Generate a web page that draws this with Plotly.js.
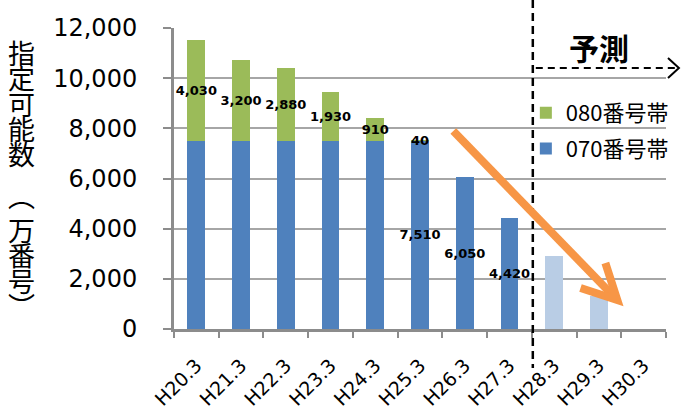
<!DOCTYPE html>
<html>
<head>
<meta charset="utf-8">
<script src="https://cdn.plot.ly/plotly-3.0.1.min.js"></script>
<style>
  html, body { margin: 0; padding: 0; background: #fff; }
  #chart { width: 686px; height: 414px; }
</style>
</head>
<body>
<div id="chart"></div>
<script>
// Fiscal-year points (Heisei year, March)
const categories = ['H20.3','H21.3','H22.3','H23.3','H24.3','H25.3','H26.3','H27.3','H28.3','H29.3','H30.3'];
// Assignable numbers, in units of 10,000 numbers
const band070 = [7510, 7510, 7510, 7510, 7510, 7510, 6050, 4420, null, null, null];
const band080 = [4030, 3200, 2880, 1930, 910, 40, null, null, null, null, null];
const forecast070 = [null, null, null, null, null, null, null, null, 2900, 1300, 0];
// Which 070 bars carry a value label
const labelled070 = [false, false, false, false, false, true, true, true, false, false, false];

const seriesNames = ['070番号帯', '080番号帯'];
// vertical axis title, written top to bottom
const yTitleMain = '指定可能数';
const yTitleOpen = '︵';
const yTitleUnit = '万番号︶';
const forecastLabel = '予測';

const FONT = 'DejaVu Sans';
const CJK = 'Noto Sans CJK JP';

// plot area geometry (pixels)
const L = 174, R = 17, T = 28, B = 85;
const W = 686 - L - R, H = 414 - T - B;
const px2x = p => (p - L) / W;
const px2y = p => (T + H - p) / H;

const fmt = v => v.toLocaleString('en-US');

const labelFont = {family: FONT, size: 13, color: '#000', weight: 'bold'};

const trace070 = {
  type: 'bar', name: seriesNames[0], x: categories, y: band070,
  marker: {color: '#4F81BD'},
  text: band070.map((v, i) => (labelled070[i] && v != null) ? fmt(v) : ''),
  textposition: 'inside', insidetextanchor: 'middle', textangle: 0,
  constraintext: 'none', insidetextfont: labelFont,
  legendgroup: 'g070', legendrank: 2, hoverinfo: 'skip'
};
const trace080 = {
  type: 'bar', name: seriesNames[1], x: categories, y: band080,
  marker: {color: '#9BBB59'},
  text: band080.map(v => v != null ? fmt(v) : ''),
  textposition: 'inside', insidetextanchor: 'middle', textangle: 0,
  constraintext: 'none', insidetextfont: labelFont,
  legendgroup: 'g080', legendrank: 1, hoverinfo: 'skip'
};
const traceForecast = {
  type: 'bar', name: '予測', x: categories, y: forecast070,
  marker: {color: '#B9CDE5'}, showlegend: false,
  legendgroup: 'gfc', legendrank: 3, hoverinfo: 'skip'
};

// stack characters one per line; the small base size sets a tight line pitch
const stackChars = s => Array.from(s).map(ch => `<span style="font-size:27px">${ch}</span>`).join('<br>');
const titleFont = {family: CJK, size: 19.5, color: '#000'};

const annotations = [
  {
    xref: 'paper', yref: 'paper', x: px2x(21), y: px2y(103),
    xanchor: 'center', yanchor: 'middle', showarrow: false,
    text: stackChars(yTitleMain), font: titleFont
  },
  {
    xref: 'paper', yref: 'paper', x: px2x(21), y: px2y(195),
    xanchor: 'center', yanchor: 'middle', showarrow: false,
    text: yTitleOpen, font: {family: CJK, size: 27, color: '#000'}
  },
  {
    xref: 'paper', yref: 'paper', x: px2x(21), y: px2y(267),
    xanchor: 'center', yanchor: 'middle', showarrow: false,
    text: stackChars(yTitleUnit), font: titleFont
  },
  {
    xref: 'paper', yref: 'paper', x: px2x(602), y: px2y(47),
    xanchor: 'center', yanchor: 'middle', showarrow: false,
    text: forecastLabel, font: {family: CJK, size: 30, color: '#000', weight: 'bold'}
  }
];

// trend arrow (orange), tail to tip in pixels
const tail = [455, 131], tip = [620, 300];
const armA = [583, 288], armB = [608, 263];

const shapes = [
  {
    // boundary between actual and forecast years
    type: 'line', xref: 'paper', yref: 'paper',
    x0: px2x(535), x1: px2x(535), y0: px2y(0), y1: px2y(368),
    line: {color: '#000', width: 2.5, dash: '8px,5px'}, layer: 'above'
  },
  {
    // forecast direction arrow
    type: 'line', xref: 'paper', yref: 'paper',
    x0: px2x(538), x1: px2x(681), y0: px2y(68), y1: px2y(68),
    line: {color: '#000', width: 2, dash: '7px,5px'}, layer: 'above'
  },
  {
    type: 'path', xref: 'paper', yref: 'paper',
    path: `M${px2x(671)},${px2y(58)} L${px2x(682)},${px2y(68)} L${px2x(671)},${px2y(78)}`,
    line: {color: '#000', width: 2}, layer: 'above'
  },
  {
    type: 'line', xref: 'paper', yref: 'paper',
    x0: px2x(tail[0]), y0: px2y(tail[1]), x1: px2x(tip[0] - 3), y1: px2y(tip[1] - 3),
    line: {color: '#F79646', width: 8}, layer: 'above'
  },
  {
    type: 'path', xref: 'paper', yref: 'paper',
    path: `M${px2x(armA[0])},${px2y(armA[1])} L${px2x(tip[0])},${px2y(tip[1])} L${px2x(armB[0])},${px2y(armB[1])}`,
    line: {color: '#F79646', width: 8}, layer: 'above'
  }
];

const layout = {
  width: 686, height: 414,
  margin: {l: L, r: R, t: T, b: B, pad: 0},
  paper_bgcolor: '#fff', plot_bgcolor: '#fff',
  barmode: 'stack', bargap: 0.6,
  showlegend: true,
  legend: {
    x: px2x(528), y: px2y(92), xanchor: 'left', yanchor: 'top',
    traceorder: 'grouped', tracegroupgap: 4,
    font: {family: CJK, size: 22, color: '#000'},
    bgcolor: 'rgba(0,0,0,0)', borderwidth: 0
  },
  xaxis: {
    type: 'category', tickson: 'boundaries',
    ticks: 'outside', ticklen: 6, tickwidth: 2, tickcolor: '#8C8C8C',
    showline: true, linecolor: '#8C8C8C', linewidth: 3,
    showgrid: false, tickangle: -45, ticklabelstandoff: 15,
    tickfont: {family: FONT, size: 19, color: '#000'},
    automargin: false, fixedrange: true
  },
  yaxis: {
    range: [0, 12000], dtick: 2000, tickformat: ',d',
    ticks: 'outside', ticklen: 8, tickwidth: 2, tickcolor: '#8C8C8C',
    showline: true, linecolor: '#8C8C8C', linewidth: 3,
    showgrid: true, gridcolor: '#A6A6A6', gridwidth: 2, zeroline: false,
    ticklabelstandoff: 21,
    tickfont: {family: FONT, size: 24, color: '#000'},
    automargin: false, fixedrange: true
  },
  annotations: annotations,
  shapes: shapes
};

Plotly.newPlot('chart', [trace070, trace080, traceForecast], layout, {displayModeBar: false, staticPlot: true});
</script>
</body>
</html>
